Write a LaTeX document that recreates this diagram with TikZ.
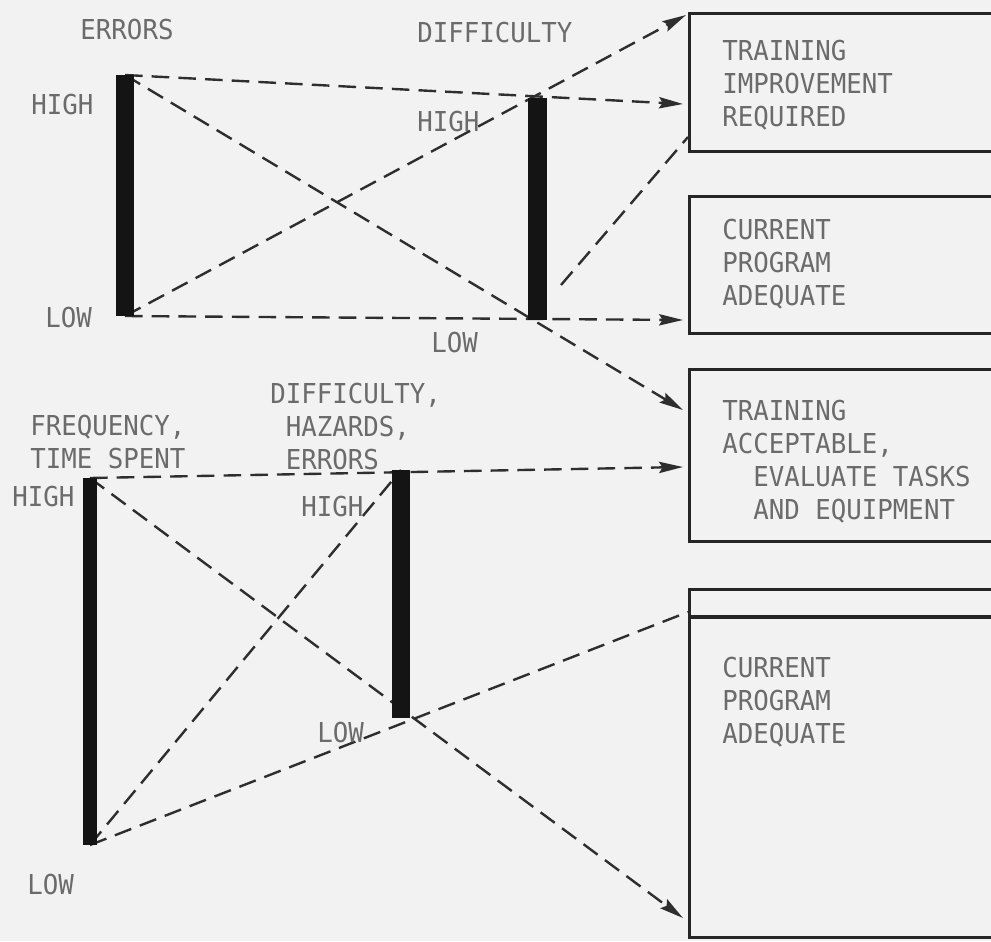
\documentclass[tikz,border=0pt]{standalone}
\usepackage{fontspec}
\setmonofont[FakeStretch=0.94]{DejaVu Sans Mono}
\usetikzlibrary{arrows.meta}
\begin{document}
\begin{tikzpicture}[x=0.025cm,y=-0.025cm,
  lbl/.style={font=\ttfamily\fontsize{19.5}{23.5}\selectfont,text=black!58,inner sep=0pt,align=left},
  scalebar/.style={draw=black!92,line width=#1},
  link/.style={draw=black!82,line width=1.7pt,dash pattern=on 12.5pt off 6.5pt},
  tip/.style={-{Stealth[length=17pt,width=8pt,inset=2.5pt]}},
  outcome/.style={draw=black!85,line width=2.2pt,inner sep=0pt,anchor=north west,minimum width=9cm}
]
\useasboundingbox (0,0) rectangle (991,941);
\fill[black!5] (0,0) rectangle (991,941);
\clip (0,0) rectangle (991,941);

% outcome boxes, their right sides run past the edge
\node[outcome,minimum height=3.45cm]  (b1) at (688,12)  {};
\node[outcome,minimum height=3.425cm] (b2) at (688,195) {};
\node[outcome,minimum height=4.3cm]   (b3) at (688,368) {};
\node[outcome,minimum height=8.7cm]   (b4) at (688,588) {};
\path (b4.north west) ++(0,29) coordinate (b4s);
\draw[draw=black!85,line width=2.2pt] (b4s) -- ++(400,0);

% box texts
\node[lbl,anchor=north west] (x1) at (722,40)  {TRAINING\\IMPROVEMENT\\REQUIRED};
\node[lbl,anchor=north west] (x2) at (722,219) {CURRENT\\PROGRAM\\ADEQUATE};
\node[lbl,anchor=north west] (x3) at (722,400) {TRAINING\\ACCEPTABLE,\\\hphantom{AC}EVALUATE TASKS\\\hphantom{AC}AND EQUIPMENT};
\node[lbl,anchor=north west] (x4) at (722,657) {CURRENT\\PROGRAM\\ADEQUATE};

% scale end points
\coordinate (eH) at (125,75);  \coordinate (eL) at (125,316);
\coordinate (dH) at (537,98);  \coordinate (dL) at (537,320);
\coordinate (fH) at (90,478);  \coordinate (fL) at (90,845);
\coordinate (hH) at (401,470); \coordinate (hL) at (401,718);

% arrow targets and free ends
\coordinate (t1a) at (686,15);
\coordinate (t1b) at (683,104);
\coordinate (t2)  at (683,320);
\coordinate (t3a) at (683,410);
\coordinate (t3b) at (683,467);
\coordinate (t4)  at (683,918);
\coordinate (dS)  at (561,285);
\coordinate (b1e) at (688,137);
\coordinate (b4e) at (688,612);

% upper chart: errors vs difficulty
\draw[link,tip] (eH) -- (t1b);
\draw[link,tip] (eL) -- (t1a);
\draw[link,tip] (eH) -- (t3a);
\draw[link,tip] (eL) -- (t2);
\draw[link] (dS) -- (b1e);

% lower chart: frequency vs difficulty/hazards/errors
\draw[link,tip] (fH) -- (t3b);
\draw[link,tip] (fH) -- (t4);
\draw[link] (fL) -- (hH);
\draw[link] (fL) -- (b4e);

% scales
\draw[scalebar=13pt]   (eH) -- (eL);
\draw[scalebar=13.5pt] (dH) -- (dL);
\draw[scalebar=10pt]   (fH) -- (fL);
\draw[scalebar=13pt]   (hH) -- (hL);

% scale labels
\node[lbl] (lE)  at (127,30) {ERRORS};
\node[lbl,anchor=west] (lEH) at (31,105)  {HIGH};
\node[lbl,anchor=west] (lEL) at (45,318)  {LOW};
\node[lbl,anchor=west] (lD)  at (417,33)  {DIFFICULTY};
\node[lbl,anchor=west] (lDH) at (417,122) {HIGH};
\node[lbl,anchor=west] (lDL) at (431,343) {LOW};
\node[lbl,anchor=north west] (lF) at (30,415) {FREQUENCY,\\TIME SPENT};
\node[lbl,anchor=west] (lFH) at (12,497) {HIGH};
\node[lbl,anchor=west] (lFL) at (27,885) {LOW};
\node[lbl,anchor=north west] (lH) at (270,383) {DIFFICULTY,\\\hphantom{D}HAZARDS,\\\hphantom{D}ERRORS};
\node[lbl,anchor=west] (lHH) at (301,507) {HIGH};
\node[lbl,anchor=west] (lHL) at (317,733) {LOW};
\end{tikzpicture}
\end{document}
